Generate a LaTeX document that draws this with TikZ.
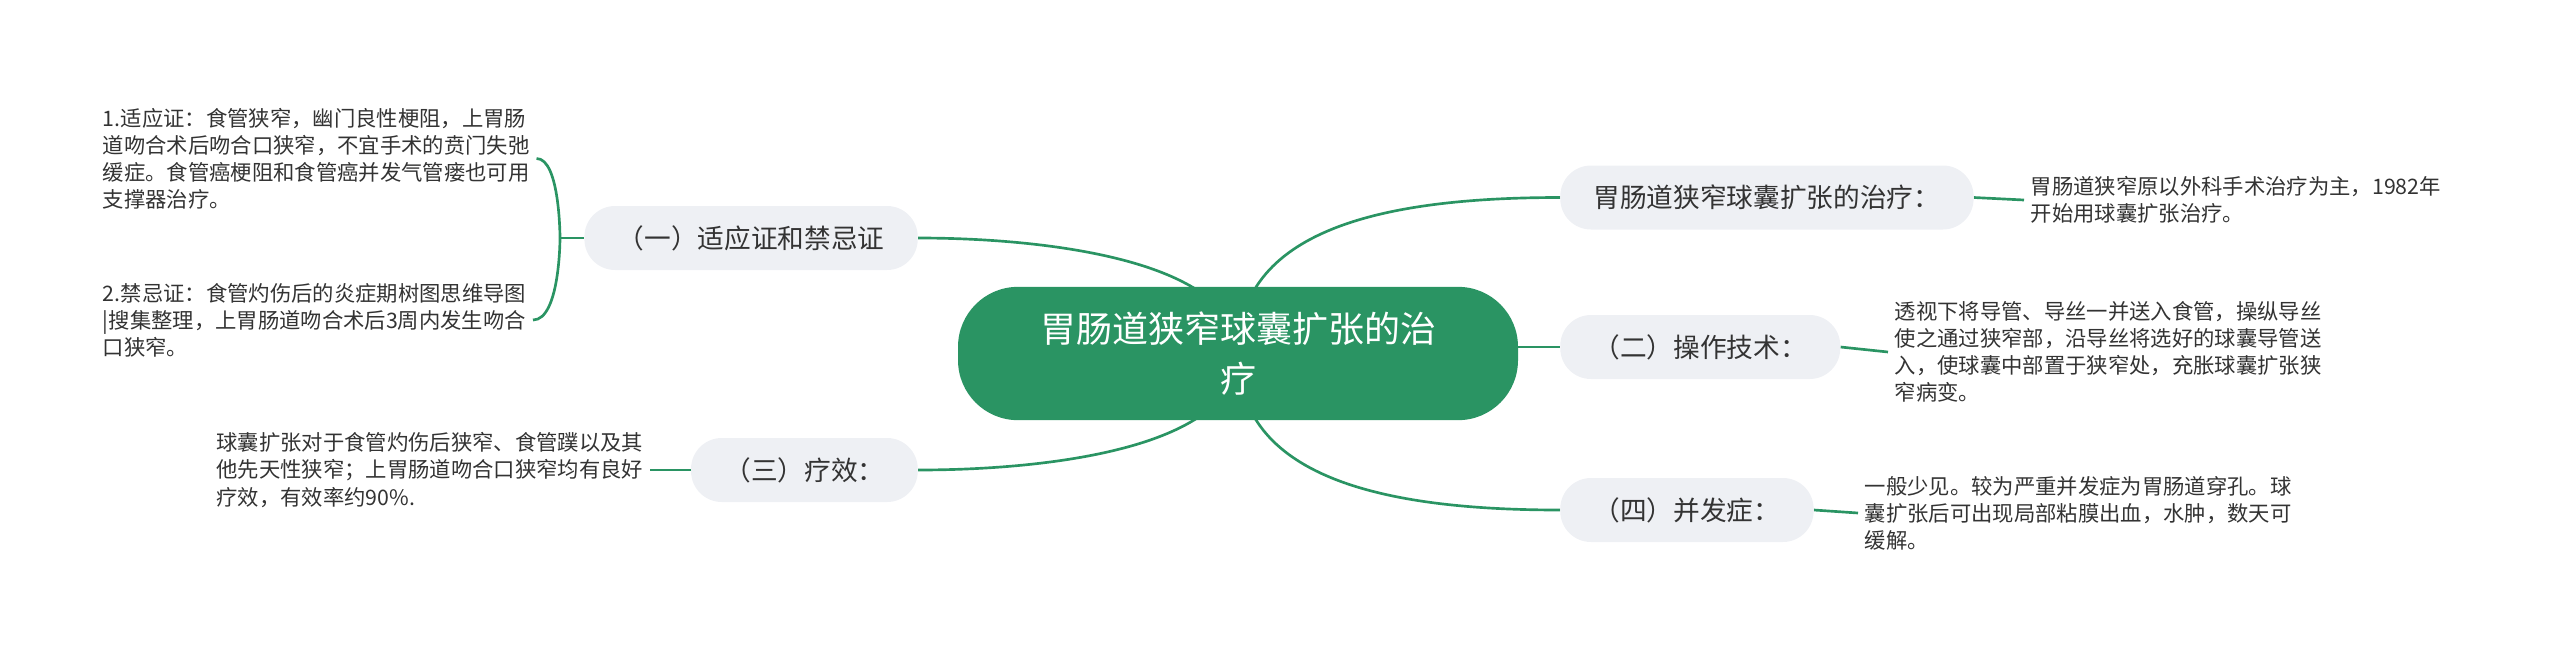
\documentclass[tikz,border=0pt]{standalone}
\usepackage{fontspec}
\setmainfont{Noto Sans CJK SC}
\usetikzlibrary{backgrounds}
\definecolor{mapgreen}{HTML}{2A9463}
\definecolor{mapgray}{HTML}{EEF0F4}
\definecolor{maptext}{HTML}{333333}

\begin{document}
\begin{tikzpicture}[x=0.75pt,y=-0.75pt,
  root/.style={fill=mapgreen,text=white,rounded corners=45pt,minimum width=420pt,
    minimum height=100pt,align=center,font=\fontsize{27pt}{37.5pt}\selectfont},
  topic/.style={fill=mapgray,text=maptext,rounded corners=23pt,minimum height=48pt,
    inner xsep=25pt,font=\fontsize{20pt}{24pt}\selectfont},
  note/.style={text=maptext,align=left,inner sep=5pt,font=\fontsize{16pt}{20.3pt}\selectfont},
  link/.style={draw=mapgreen,line width=2pt}]
\useasboundingbox (0,0) rectangle (2560,654);
            % Root
\node[root] (main) at (1238,353.5) {胃肠道狭窄球囊扩张的治\\疗};
            % Topics
\node[topic,anchor=east] (ind)  at (918,238)   {（一）适应证和禁忌证};
\node[topic,anchor=east] (eff)  at (918,470)   {（三）疗效：};
\node[topic,anchor=west] (trt)  at (1560,197.5){胃肠道狭窄球囊扩张的治疗：};
\node[topic,anchor=west] (tech) at (1560,347)  {（二）操作技术：};
\node[topic,anchor=west] (comp) at (1560,510)  {（四）并发症：};
            % Notes
\node[note,anchor=west] (indA) at (96,158.5) {1.适应证：食管狭窄，幽门良性梗阻，上胃肠\\道吻合术后吻合口狭窄，不宜手术的贲门失弛\\缓症。食管癌梗阻和食管癌并发气管瘘也可用\\支撑器治疗。};
\node[note,anchor=west] (indB) at (96,320) {2.禁忌证：食管灼伤后的炎症期树图思维导图\\|搜集整理，上胃肠道吻合术后3周内发生吻合\\口狭窄。};
\node[note,anchor=east] (effN) at (650,470) {球囊扩张对于食管灼伤后狭窄、食管蹼以及其\\他先天性狭窄；上胃肠道吻合口狭窄均有良好\\疗效，有效率约90\%.};
\node[note,anchor=west] (trtN) at (2024,200) {胃肠道狭窄原以外科手术治疗为主，1982年\\开始用球囊扩张治疗。};
\node[note,anchor=west] (techN) at (1888,352) {透视下将导管、导丝一并送入食管，操纵导丝\\使之通过狭窄部，沿导丝将选好的球囊导管送\\入，使球囊中部置于狭窄处，充胀球囊扩张狭\\窄病变。};
\node[note,anchor=west] (compN) at (1858,513) {一般少见。较为严重并发症为胃肠道穿孔。球\\囊扩张后可出现局部粘膜出血，水肿，数天可\\缓解。};
\coordinate (tip) at (560,238);
\begin{scope}[on background layer]
%Root to topics
\draw[link] (main.center) .. controls +(0,-92) and +(132,0) .. (ind.east);
\draw[link] (main.center) .. controls +(0,94) and +(132,0) .. (eff.east);
\draw[link] (main.center) .. controls +(0,-123) and +(-180,0) .. (trt.west);
\draw[link] (main.center) .. controls +(0,123) and +(-180,0) .. (comp.west);
\draw[link] (tech.west -| main.center) -- (tech.west);
%Topics to notes
\draw[link] (indA.east) .. controls (tip |- indA.east) and (tip) .. (tip)
            .. controls (tip) and (tip |- indB.east) .. (indB.east);
\draw[link] (tip) -- (ind.west);
\draw[link] (effN.east) -- (eff.west);
\draw[link] (trt.east) -- (trtN.west);
\draw[link] (tech.east) -- (techN.west);
\draw[link] (comp.east) -- (compN.west);
\end{scope}

\end{tikzpicture}
\end{document}
